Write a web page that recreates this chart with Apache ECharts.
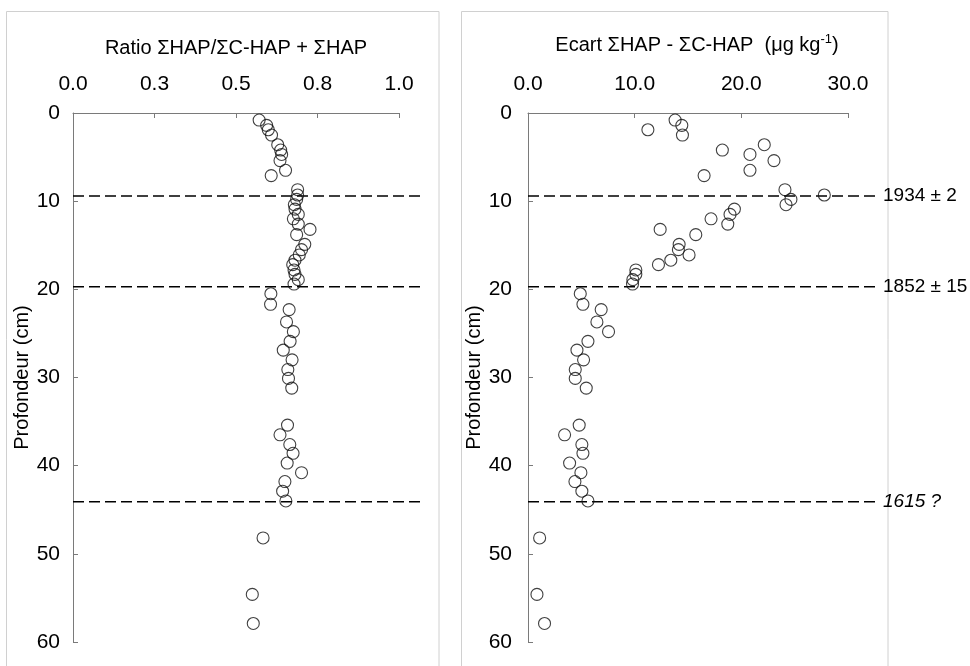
<!DOCTYPE html>
<html>
<head>
<meta charset="utf-8">
<script src="https://cdn.jsdelivr.net/npm/echarts@6/dist/echarts.min.js"></script>
<style>
html,body{margin:0;padding:0;background:#fff;}
#chart{width:970px;height:666px;}
</style>
</head>
<body>
<div id="chart"></div>
<script>
// Depth of each sample (cm)
const depths = [0.8,1.4,1.9,2.5,3.6,4.2,4.7,5.4,6.5,7.1,
  8.7,9.3,9.8,10.4,10.9,11.5,12.0,12.6,13.2,13.8,14.9,15.5,16.1,16.7,17.2,17.8,18.3,18.9,19.4,
  20.5,21.7,22.3,23.7,24.8,25.9,26.9,28.0,29.1,30.1,31.2,
  35.4,36.5,37.6,38.6,39.7,40.8,41.8,42.9,44.0,
  48.2,54.6,57.9];
// Ratio ΣHAP/ΣC-HAP + ΣHAP
const ratioValues = [0.571,0.594,0.599,0.609,0.628,0.637,0.640,0.635,0.652,0.608,
  0.689,0.689,0.686,0.679,0.681,0.691,0.676,0.691,0.727,0.686,0.711,0.701,0.694,0.681,0.674,0.678,0.681,0.691,0.678,
  0.607,0.606,0.663,0.655,0.676,0.666,0.645,0.672,0.659,0.661,0.671,
  0.658,0.635,0.665,0.675,0.657,0.701,0.650,0.643,0.653,
  0.583,0.550,0.553];
// Ecart ΣHAP - ΣC-HAP (µg/kg)
const ecartValues = [13.79,14.42,11.24,14.48,22.15,18.22,20.81,23.06,20.81,16.51,
  24.09,27.78,24.65,24.19,19.35,18.94,17.16,18.73,12.39,15.73,14.17,14.10,15.10,13.39,12.23,10.11,10.11,9.83,9.80,
  4.90,5.15,6.86,6.46,7.55,5.62,4.59,5.21,4.43,4.43,5.46,
  4.80,3.43,5.05,5.15,3.90,4.96,4.40,5.05,5.62,
  1.09,0.84,1.55];
// Tick labels
const ratioTickLabels = ['0.0','0.3','0.5','0.8','1.0'];
const ecartTickLabels = ['0.0','10.0','20.0','30.0'];
const depthTickLabels = ['0','10','20','30','40','50','60'];
// Dated horizons
const horizonDepths = [9.4, 19.7, 44.1];
const horizonLabels = ['1934 ± 2', '1852 ± 15', '1615 ?'];
const horizonItalic = [false, false, true];

const FONT = 'Arial, "Liberation Sans", sans-serif';
const chart = echarts.init(document.getElementById('chart'), null, {renderer:'canvas'});

function xAxisCfg(gridIndex, max, interval, labels, name, extra) {
  return Object.assign({
    gridIndex, type:'value', position:'top', min:0, max, interval,
    name, nameLocation:'middle', nameGap:55,
    nameTextStyle:{fontFamily:FONT, fontSize:20, color:'#000'},
    axisLine:{show:true, lineStyle:{color:'#7a7a7a', width:1}},
    axisTick:{show:true, inside:true, length:5, lineStyle:{color:'#7a7a7a'}},
    axisLabel:{fontFamily:FONT, fontSize:21, color:'#000', margin:18,
      formatter:(v, i) => labels[Math.round(v/interval)]},
    splitLine:{show:false}
  }, extra || {});
}
function yAxisCfg(gridIndex, nameGap, margin) {
  return {
    gridIndex, type:'value', inverse:true, min:0, max:60, interval:10,
    name:'Profondeur (cm)', nameLocation:'middle', nameGap,
    nameTextStyle:{fontFamily:FONT, fontSize:20, color:'#000'},
    axisLine:{show:true, lineStyle:{color:'#7a7a7a', width:1}},
    axisTick:{show:true, inside:true, length:5, lineStyle:{color:'#7a7a7a'}},
    axisLabel:{fontFamily:FONT, fontSize:21, color:'#000', margin,
      formatter:(v) => depthTickLabels[Math.round(v/10)]},
    splitLine:{show:false}
  };
}
const symbolStyle = {color:'rgba(255,255,255,0)', borderColor:'#111', borderWidth:1.1};

const option = {
  backgroundColor:'#fff',
  animation:false,
  grid:[
    {left:73, top:113, width:326, height:529},
    {left:528, top:113, width:320, height:529}
  ],
  xAxis:[
    xAxisCfg(0, 1, 0.25, ratioTickLabels, 'Ratio ΣHAP/ΣC-HAP + ΣHAP'),
    xAxisCfg(1, 30, 10, ecartTickLabels, '{a|Ecart ΣHAP - ΣC-HAP  (μg kg}{s|-1}{a|)}', {
      nameTextStyle:{fontFamily:FONT, fontSize:20, color:'#000', padding:[0,0,0,18],
        rich:{a:{fontFamily:FONT, fontSize:20, color:'#000'},
              s:{fontFamily:FONT, fontSize:13, color:'#000', padding:[0,0,12,0]}}}
    })
  ],
  yAxis:[ yAxisCfg(0, 38, 13), yAxisCfg(1, 40, 16) ],
  series:[
    {type:'scatter', xAxisIndex:0, yAxisIndex:0, symbol:'circle', symbolSize:12,
     itemStyle:symbolStyle, data: ratioValues.map((v,i)=>[v, depths[i]])},
    {type:'scatter', xAxisIndex:1, yAxisIndex:1, symbol:'circle', symbolSize:12,
     itemStyle:symbolStyle, data: ecartValues.map((v,i)=>[v, depths[i]])}
  ]
};
chart.setOption(option);

// frames + dated horizon lines, positioned through the axes
const graphics = [
  {type:'rect', shape:{x:6.5, y:11.5, width:432.5, height:680}, style:{fill:null, stroke:'#d0d0d0', lineWidth:1}, z:0},
  {type:'rect', shape:{x:461.5, y:11.5, width:426.5, height:680}, style:{fill:null, stroke:'#d0d0d0', lineWidth:1}, z:0}
];
horizonDepths.forEach((d, k) => {
  const yL = chart.convertToPixel({yAxisIndex:0}, d);
  const x0L = chart.convertToPixel({xAxisIndex:0}, 0);
  const x1L = chart.convertToPixel({xAxisIndex:0}, 1) + 25;
  const yR = chart.convertToPixel({yAxisIndex:1}, d);
  const x0R = chart.convertToPixel({xAxisIndex:1}, 0);
  const x1R = chart.convertToPixel({xAxisIndex:1}, 30) + 30;
  const ls = {stroke:'#000', lineWidth:1.5, lineDash:[11,5]};
  graphics.push({type:'line', shape:{x1:x0L, y1:yL, x2:x1L, y2:yL}, style:ls, z:1});
  graphics.push({type:'line', shape:{x1:x0R, y1:yR, x2:x1R, y2:yR}, style:ls, z:1});
  graphics.push({type:'text', x:x1R + 5, y:yR, style:{text:horizonLabels[k], fontFamily:FONT, fontSize:19,
    fontStyle: horizonItalic[k] ? 'italic' : 'normal', fill:'#000', align:'left', verticalAlign:'middle'}, z:3});
});
chart.setOption({graphic: graphics});
</script>
</body>
</html>
